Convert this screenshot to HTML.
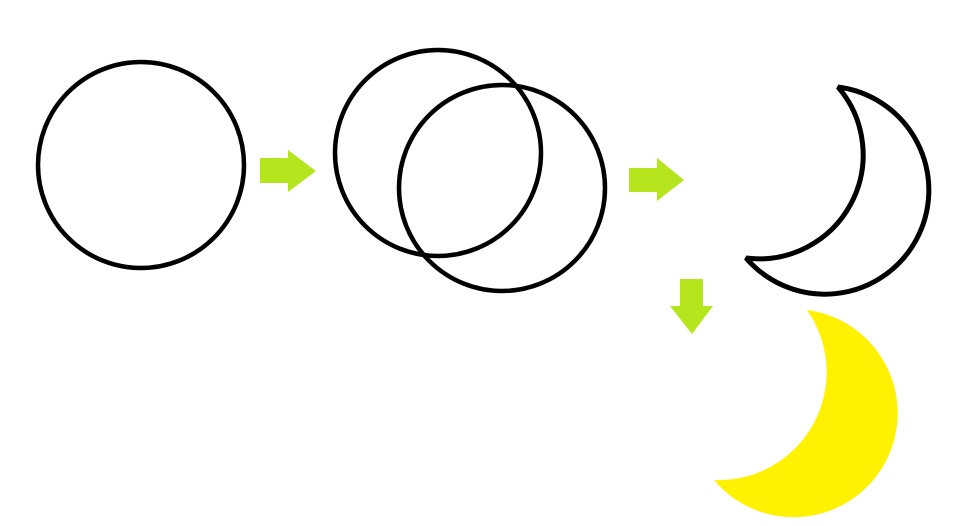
<!DOCTYPE html>
<html><head><meta charset="utf-8"><style>html,body{margin:0;padding:0;background:#fff;}svg{display:block;}</style></head>
<body>
<svg width="971" height="526" viewBox="0 0 971 526">
  <circle cx="141" cy="165" r="103" fill="none" stroke="#000" stroke-width="4.5"/>
  <path d="M260,158 H288 V150 L316,171 L288,192 V183 H260 Z" fill="#b5e61d"/>
  <circle cx="438" cy="153" r="103" fill="none" stroke="#000" stroke-width="4.5"/>
  <circle cx="502" cy="188" r="103" fill="none" stroke="#000" stroke-width="4.5"/>
  <path d="M629,168 H657 V158 L684,180 L657,201 V192 H629 Z" fill="#b5e61d"/>
  <path d="M838,87 A104,104 0 1,1 746,258 A104,104 0 0,0 838,87 Z" fill="none" stroke="#000" stroke-width="5" stroke-linejoin="bevel"/>
  <path d="M680,279 H703 V306 H713 L692,334 L670,306 H680 Z" fill="#b5e61d"/>
  <path d="M807,310 A104,104 0 1,1 714,480 A108,108 0 0,0 807,310 Z" fill="#fff200"/>
</svg>
</body></html>
